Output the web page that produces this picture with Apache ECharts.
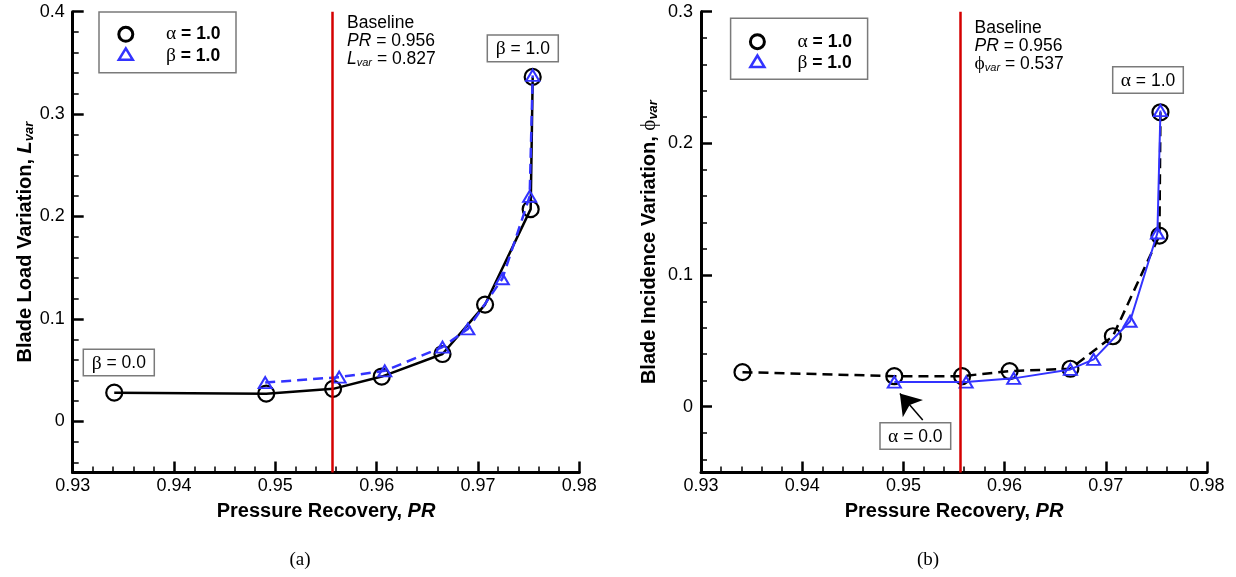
<!DOCTYPE html>
<html>
<head>
<meta charset="utf-8">
<title>Pressure recovery vs blade load / incidence variation</title>
<script src="https://cdn.jsdelivr.net/npm/echarts@6/dist/echarts.min.js"></script>
<style>
  html, body { margin: 0; padding: 0; background: #fff; }
  #chart { width: 1236px; height: 577px; }
</style>
</head>
<body>
<div id="chart"></div>
<script>
// ---- data -------------------------------------------------------------
// (a) blade load variation
const prLoadAlpha   = [0.9341, 0.9491, 0.9557, 0.9605, 0.9665, 0.9707, 0.9752, 0.9754];
const loadVarAlpha  = [0.0280, 0.0270, 0.0317, 0.0437, 0.0657, 0.1140, 0.2072, 0.3363];
const prLoadBeta    = [0.9490, 0.9563, 0.9608, 0.9665, 0.9690, 0.9724, 0.9751, 0.9754];
const loadVarBeta   = [0.0378, 0.0431, 0.0493, 0.0725, 0.0902, 0.1392, 0.2196, 0.3378];

// (b) blade incidence variation
const prIncAlpha    = [0.9341, 0.9491, 0.9558, 0.9605, 0.9665, 0.9707, 0.9753, 0.9754];
const incVarAlpha   = [0.0262, 0.0232, 0.0232, 0.0270, 0.0288, 0.0535, 0.1299, 0.2236];
const prIncBeta     = [0.9491, 0.9562, 0.9609, 0.9665, 0.9688, 0.9724, 0.9751, 0.9754];
const incVarBeta    = [0.0187, 0.0187, 0.0215, 0.0283, 0.0359, 0.0649, 0.1319, 0.2249];

// baseline design
const baselinePR     = 0.9556;
const baselineLoad   = 0.827;
const baselinePhi    = 0.537;

// axis ticks
const prTicks        = [0.93, 0.94, 0.95, 0.96, 0.97, 0.98];
const loadTicks      = [0, 0.1, 0.2, 0.3, 0.4];
const incTicks       = [0, 0.1, 0.2, 0.3];

// ---- helpers ----------------------------------------------------------
const SANS = '"Liberation Sans", Arial, Helvetica, sans-serif';
const SERIF = '"Liberation Serif", "Times New Roman", serif';
const BLUE = '#3333ff';
const RED = '#d40000';
const PHI = '\u03d5';

function zip(xs, ys) { return xs.map((x, i) => [x, ys[i]]); }

function minorBetween(start, end, step, majors) {
  const out = [];
  const n = Math.round((end - start) / step);
  for (let i = 0; i <= n; i++) {
    const v = +(start + i * step).toFixed(4);
    if (!majors.some(m => Math.abs(m - v) < 1e-9)) out.push(v);
  }
  return out;
}
const prMinor   = minorBetween(0.93, 0.98, 0.002, prTicks);
const loadMinor = minorBetween(-0.04, 0.4, 0.02, loadTicks);
const incMinor  = minorBetween(-0.04, 0.3, 0.02, incTicks);

const axisTitleRich = {
  b:  { fontFamily: SANS, fontWeight: 'bold', fontSize: 20, color: '#000' },
  bi: { fontFamily: SANS, fontWeight: 'bold', fontStyle: 'italic', fontSize: 20, color: '#000' },
  sub:{ fontFamily: SANS, fontWeight: 'bold', fontStyle: 'italic', fontSize: 13, color: '#000', verticalAlign: 'bottom', lineHeight: 8 },
  g:  { fontFamily: SERIF, fontSize: 21, color: '#000' }
};

function majorX(grid) {
  return {
    type: 'value', gridIndex: grid, min: 0.93, max: 0.98, position: 'bottom',
    axisLine: { show: true, onZero: false, lineStyle: { color: '#000', width: 3 } },
    axisTick: { show: true, inside: true, length: 11, customValues: prTicks, lineStyle: { color: '#000', width: 2.5 } },
    axisLabel: { show: true, customValues: prTicks, formatter: v => v.toFixed(2), margin: 5,
                 fontFamily: SANS, fontSize: 18, color: '#000' },
    splitLine: { show: false },
    name: '{b|Pressure Recovery, }{bi|PR}', nameLocation: 'middle', nameGap: 29,
    nameTextStyle: { rich: axisTitleRich }
  };
}
function minorX(grid) {
  return {
    type: 'value', gridIndex: grid, min: 0.93, max: 0.98, position: 'bottom',
    axisLine: { show: false, onZero: false },
    axisTick: { show: true, inside: true, length: 6, customValues: prMinor, lineStyle: { color: '#000', width: 1.5 } },
    axisLabel: { show: false }, splitLine: { show: false }
  };
}
function majorY(grid, max, ticks, name, gap) {
  return {
    type: 'value', gridIndex: grid, min: -0.05, max: max, position: 'left',
    axisLine: { show: true, onZero: false, lineStyle: { color: '#000', width: 3 } },
    axisTick: { show: true, inside: true, length: 11, customValues: ticks, lineStyle: { color: '#000', width: 2.5 } },
    axisLabel: { show: true, customValues: ticks, formatter: v => (v === 0 ? '0' : v.toFixed(1)), margin: 8,
                 fontFamily: SANS, fontSize: 18, color: '#000' },
    splitLine: { show: false },
    name: name, nameLocation: 'middle', nameGap: gap, nameRotate: 90,
    nameTextStyle: { rich: axisTitleRich }
  };
}
function minorY(grid, max, minors) {
  return {
    type: 'value', gridIndex: grid, min: -0.05, max: max, position: 'left',
    axisLine: { show: false, onZero: false },
    axisTick: { show: true, inside: true, length: 6, customValues: minors, lineStyle: { color: '#000', width: 1.5 } },
    axisLabel: { show: false }, splitLine: { show: false }
  };
}

const circleMarker = { color: 'rgba(0,0,0,0)', borderColor: '#000', borderWidth: 2.2 };
const triangleMarker = { color: 'rgba(0,0,0,0)', borderColor: BLUE, borderWidth: 2 };

// vertical red line marking the baseline pressure recovery
function baselineLine(yMax) {
  return {
    silent: true, symbol: ['none', 'none'], label: { show: false },
    lineStyle: { color: RED, width: 2.5, type: 'solid' },
    emphasis: { disabled: true },
    data: [[{ coord: [baselinePR, -0.05] }, { coord: [baselinePR, yMax] }]]
  };
}

// ---- annotation graphics ---------------------------------------------
const textRich = {
  n:  { fontFamily: SANS, fontSize: 17.5, color: '#000', lineHeight: 18 },
  i:  { fontFamily: SANS, fontSize: 17.5, fontStyle: 'italic', color: '#000', lineHeight: 18 },
  s:  { fontFamily: SANS, fontSize: 11, fontStyle: 'italic', color: '#000', verticalAlign: 'bottom', lineHeight: 5 },
  g:  { fontFamily: SERIF, fontSize: 19.5, color: '#000', lineHeight: 18 },
  gb: { fontFamily: SERIF, fontSize: 19.5, color: '#000' },
  bb: { fontFamily: SANS, fontSize: 17.5, fontWeight: 'bold', color: '#000' }
};

function textEl(x, y, text, align, vAlign) {
  return { type: 'text', x: x, y: y, silent: true, z: 20,
    style: { text: text, rich: textRich, align: align || 'left', textAlign: align || 'left',
             verticalAlign: vAlign || 'middle', textVerticalAlign: vAlign || 'middle' } };
}
function boxEl(x1, y1, x2, y2) {
  return { type: 'rect', silent: true, z: 19,
    shape: { x: x1, y: y1, width: x2 - x1, height: y2 - y1 },
    style: { fill: '#fff', stroke: '#7a7a7a', lineWidth: 1.5 } };
}
function boxedLabel(x1, y1, x2, y2, text) {
  return [boxEl(x1, y1, x2, y2), textEl((x1 + x2) / 2, (y1 + y2) / 2 + 1, text, 'center', 'middle')];
}
function legendEls(x1, y1, x2, y2, mx, cy1, cy2, tx) {
  return [
    boxEl(x1, y1, x2, y2),
    { type: 'circle', silent: true, z: 20, shape: { cx: mx, cy: cy1, r: 7 },
      style: { fill: 'none', stroke: '#000', lineWidth: 3 } },
    { type: 'polygon', silent: true, z: 20,
      shape: { points: [[mx - 7, cy2 + 5], [mx + 7, cy2 + 5], [mx, cy2 - 6.5]] },
      style: { fill: 'none', stroke: BLUE, lineWidth: 2.5 } },
    textEl(tx, cy1, '{gb|\u03b1}{bb| = 1.0}', 'left', 'middle'),
    textEl(tx, cy2 + 1, '{gb|\u03b2}{bb| = 1.0}', 'left', 'middle')
  ];
}

const graphics = [].concat(
  legendEls(99, 12, 236, 72.7, 125.8, 34.3, 54.8, 166),
  legendEls(730.6, 18.3, 867.6, 79.3, 757.4, 41.7, 62, 797.5),
  [textEl(347, 41.5, '{n|Baseline}\n{i|PR}{n| = ' + baselinePR.toFixed(3) + '}\n{i|L}{s|var}{n| = ' + baselineLoad.toFixed(3) + '}', 'left', 'middle')],
  [textEl(974.5, 46, '{n|Baseline}\n{i|PR}{n| = ' + baselinePR.toFixed(3) + '}\n{g|' + PHI + '}{s|var}{n| = ' + baselinePhi.toFixed(3) + '}', 'left', 'middle')],
  boxedLabel(487.3, 35, 558.3, 61.7, '{g|\u03b2}{n| = 1.0}'),
  boxedLabel(83.3, 349.3, 154.3, 375.7, '{g|\u03b2}{n| = 0.0}'),
  boxedLabel(1112.7, 66.7, 1183.3, 93.3, '{g|\u03b1}{n| = 1.0}'),
  boxedLabel(880, 422.7, 950.7, 449.3, '{g|\u03b1}{n| = 0.0}'),
  [
    { type: 'text', x: 300, y: 560, silent: true,
      style: { text: '(a)', font: '19px ' + SERIF, fill: '#000', align: 'center', textAlign: 'center', verticalAlign: 'middle', textVerticalAlign: 'middle' } },
    { type: 'text', x: 928, y: 560, silent: true,
      style: { text: '(b)', font: '19px ' + SERIF, fill: '#000', align: 'center', textAlign: 'center', verticalAlign: 'middle', textVerticalAlign: 'middle' } }
  ]
);

// ---- chart ------------------------------------------------------------
const chart = echarts.init(document.getElementById('chart'), null, { renderer: 'canvas' });

chart.setOption({
  backgroundColor: '#fff',
  animation: false,
  grid: [
    { left: 72.7, right: 656.7, top: 11.7, bottom: 104.5, containLabel: false },
    { left: 701, right: 29, top: 11.7, bottom: 104.5, containLabel: false }
  ],
  xAxis: [majorX(0), minorX(0), majorX(1), minorX(1)],
  yAxis: [
    majorY(0, 0.4, loadTicks, '{b|Blade Load Variation, }{bi|L}{sub|var}', 37),
    minorY(0, 0.4, loadMinor),
    majorY(1, 0.3, incTicks, '{b|Blade Incidence Variation, }{g|' + PHI + '}{sub|var}', 41),
    minorY(1, 0.3, incMinor)
  ],
  series: [
    { name: '\u03b1 = 1.0 (a)', type: 'line', xAxisIndex: 0, yAxisIndex: 0, z: 3,
      data: zip(prLoadAlpha, loadVarAlpha), symbol: 'circle', symbolSize: 16,
      itemStyle: circleMarker, lineStyle: { color: '#000', width: 2.5, type: 'solid' },
      emphasis: { disabled: true }, markLine: baselineLine(0.4) },
    { name: '\u03b2 = 1.0 (a)', type: 'line', xAxisIndex: 0, yAxisIndex: 0, z: 4,
      data: zip(prLoadBeta, loadVarBeta), symbol: 'triangle', symbolSize: [13, 11],
      itemStyle: triangleMarker, lineStyle: { color: BLUE, width: 2.5, type: [10, 6] },
      emphasis: { disabled: true } },
    { name: '\u03b1 = 1.0 (b)', type: 'line', xAxisIndex: 2, yAxisIndex: 2, z: 3,
      data: zip(prIncAlpha, incVarAlpha), symbol: 'circle', symbolSize: 16,
      itemStyle: circleMarker, lineStyle: { color: '#000', width: 2.5, type: [10, 6] },
      emphasis: { disabled: true }, markLine: baselineLine(0.3) },
    { name: '\u03b2 = 1.0 (b)', type: 'line', xAxisIndex: 2, yAxisIndex: 2, z: 4,
      data: zip(prIncBeta, incVarBeta), symbol: 'triangle', symbolSize: [13, 11],
      itemStyle: triangleMarker, lineStyle: { color: BLUE, width: 2, type: 'solid' },
      emphasis: { disabled: true },
      // pointer from the "α = 0.0" tag to the first β point
      markLine: {
        silent: true, symbol: ['none', 'arrow'], symbolSize: 20, label: { show: false },
        itemStyle: { color: '#000' },
        lineStyle: { color: '#000', width: 1.5, type: 'solid' }, emphasis: { disabled: true },
        data: [[{ coord: [0.95191, -0.0102] }, { coord: [0.94965, 0.0100] }]]
      } }
  ],
  graphic: graphics
});
</script>
</body>
</html>
